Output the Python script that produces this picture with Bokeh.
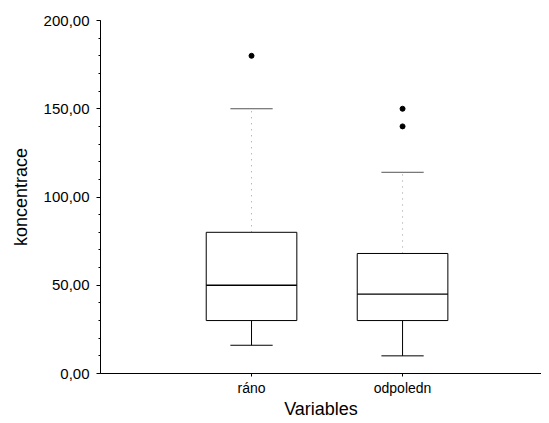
from bokeh.plotting import figure
from bokeh.models import Range1d, FixedTicker, SingleIntervalTicker
from bokeh.embed import file_html
from bokeh.resources import INLINE

categories = ["ráno", "odpoledn"]
whisker_low = [16, 10]
q1 = [30, 30]
median = [50, 45]
q3 = [80, 68]
whisker_high = [150, 114]
outlier_cat = ["ráno", "odpoledn", "odpoledn"]
outlier_val = [180, 140, 150]
y_ticks = [0, 50, 100, 150, 200]

pos = {c: i + 1 for i, c in enumerate(categories)}
xs = [pos[c] for c in categories]
box_w = 0.6
cap_w = 0.28
FONT = "Liberation Sans"

p = figure(frame_width=441, frame_height=353,
           x_range=Range1d(0, 2.92), y_range=Range1d(0, 200),
           output_backend="svg", toolbar_location=None,
           min_border_left=100, min_border_top=20, min_border_right=0, min_border_bottom=30)
p.outline_line_color = None
p.xgrid.visible = False
p.ygrid.visible = False

# whiskers
p.segment(x0=xs, y0=whisker_low, x1=xs, y1=q1, line_color="black", line_width=1)
p.segment(x0=xs, y0=q3, x1=xs, y1=whisker_high, line_color="#999999", line_width=1, line_dash="1 5")
p.segment(x0=[x - cap_w / 2 for x in xs], y0=whisker_low, x1=[x + cap_w / 2 for x in xs], y1=whisker_low,
          line_color="black", line_width=1)
p.segment(x0=[x - cap_w / 2 for x in xs], y0=whisker_high, x1=[x + cap_w / 2 for x in xs], y1=whisker_high,
          line_color="#555555", line_width=1)
# boxes
p.vbar(x=xs, width=box_w, bottom=q1, top=q3, fill_color="white", line_color="black", line_width=1)
p.segment(x0=[x - box_w / 2 for x in xs], y0=median, x1=[x + box_w / 2 for x in xs], y1=median,
          line_color="black", line_width=1.3)
# outliers
p.scatter(x=[pos[c] for c in outlier_cat], y=outlier_val, size=5, color="black")

# y axis
ya = p.yaxis[0]
ya.ticker = SingleIntervalTicker(interval=50, num_minor_ticks=5)
ya.major_label_overrides = {v: f"{v:.2f}".replace(".", ",") for v in y_ticks}
ya.axis_label = "koncentrace"
ya.axis_label_text_font = FONT
ya.axis_label_text_font_size = "18px"
ya.axis_label_text_font_style = "normal"
ya.axis_label_text_color = "black"
ya.axis_label_standoff = 10
ya.major_label_text_font = FONT
ya.major_label_text_font_size = "15px"
ya.major_label_text_color = "black"
ya.major_label_standoff = 7
ya.major_tick_out = 4
ya.major_tick_in = 0
ya.minor_tick_out = 2
ya.minor_tick_in = 0
ya.axis_line_color = "black"

# x axis
xa = p.xaxis[0]
xa.ticker = FixedTicker(ticks=xs)
xa.major_label_overrides = {pos[c]: c for c in categories}
xa.axis_label = "Variables"
xa.axis_label_text_font = FONT
xa.axis_label_text_font_size = "18px"
xa.axis_label_text_font_style = "normal"
xa.axis_label_text_color = "black"
xa.axis_label_standoff = 0
xa.major_label_text_font = FONT
xa.major_label_text_font_size = "14px"
xa.major_label_text_color = "black"
xa.major_label_standoff = 3
xa.major_tick_out = 3
xa.major_tick_in = 0
xa.minor_tick_out = 0
xa.minor_tick_in = 0

open("out.html", "w").write(file_html(p, INLINE))
